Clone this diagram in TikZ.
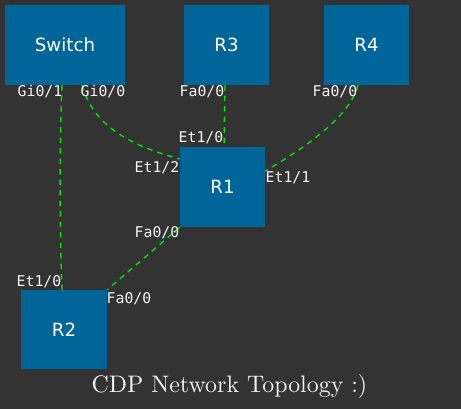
\documentclass[tikz,border=0pt]{standalone}
\usepackage{fontspec}
\newfontfamily\nodefont{DejaVu Sans}
\newfontfamily\labfont{DejaVu Sans Mono}
\newfontfamily\titlefont{lmroman10-regular.otf}
\definecolor{bg}{HTML}{333333}
\definecolor{devblue}{HTML}{006699}
\definecolor{linkgreen}{HTML}{00E400}
\definecolor{txt}{HTML}{F4F4F4}
\begin{document}
\begin{tikzpicture}[x=1pt,y=-1pt,
  device/.style={rectangle, fill=devblue, inner sep=0pt, text=white,
    font=\nodefont\fontsize{18.2}{20}\selectfont},
  port/.style={inner sep=0pt, anchor=base west, text=txt,
    font=\labfont\fontsize{14.8}{16}\selectfont},
  link/.style={draw=linkgreen, line width=1.4pt, dash pattern=on 5.5pt off 5pt}]
\fill[bg] (0,0) rectangle (461,409);
\useasboundingbox (0,0) rectangle (461,409);

\node[device, minimum width=120pt, minimum height=80pt] (sw) at (65,45) {Switch};
\node[device, minimum width=85pt, minimum height=80pt] (r3) at (226.5,45) {R3};
\node[device, minimum width=85pt, minimum height=80pt] (r4) at (366.5,45) {R4};
\node[device, minimum width=85pt, minimum height=80pt] (r1) at (222.5,187) {R1};
\node[device, minimum width=86pt, minimum height=79pt] (r2) at (64,329.5) {R2};

\draw[link] ([xshift=-3pt]sw.south) .. controls (59,160) and (60,240) .. ([xshift=-2pt]r2.north);
\draw[link] ([xshift=17pt]sw.south) .. controls (92,120) and (120,143) .. ([yshift=28pt]r1.west);
\draw[link] ([xshift=-1.5pt]r3.south) -- ([xshift=1.5pt]r1.north);
\draw[link] ([xshift=-8.5pt]r4.south) .. controls (350,115) and (310,145) .. ([yshift=16pt]r1.east);
\draw[link] (r1.south west) -- (r2.north east);

\node[port] (p1) at (17.5,97) {Gi0/1};
\node[port] (p2) at (80.5,97) {Gi0/0};
\node[port] (p3) at (179.5,97) {Fa0/0};
\node[port] (p4) at (312.5,97) {Fa0/0};
\node[port] (p5) at (178.5,143) {Et1/0};
\node[port] (p6) at (134.5,173) {Et1/2};
\node[port] (p7) at (265.5,183) {Et1/1};
\node[port] (p8) at (134.5,238) {Fa0/0};
\node[port] (p9) at (16.5,287) {Et1/0};
\node[port] (p10) at (106.5,303) {Fa0/0};

\node[inner sep=0pt, anchor=base, text=txt, font=\titlefont\fontsize{23.9}{28}\selectfont] (title) at (229.5,392) {CDP Network Topology :)};
\end{tikzpicture}
\end{document}
